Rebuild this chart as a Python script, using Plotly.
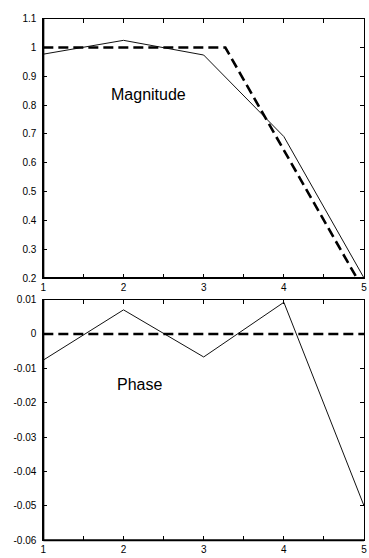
import plotly.graph_objects as go
from plotly.subplots import make_subplots

# Sample index
x = [1, 2, 3, 4, 5]

# Measured response
magnitude = [0.977, 1.025, 0.974, 0.691, 0.2]
phase = [-0.0076, 0.0070, -0.0067, 0.0092, -0.0500]

# Ideal (target) response
ideal_mag_x = [1, 3.27, 4.91]
ideal_mag = [1.0, 1.0, 0.2]
ideal_phase_x = [1, 5]
ideal_phase = [0.0, 0.0]

# Axis ticks
x_tickvals = [1, 1.5, 2, 2.5, 3, 3.5, 4, 4.5, 5]
x_ticktext = ["1", "", "2", "", "3", "", "4", "", "5"]
mag_ticks = [0.2, 0.3, 0.4, 0.5, 0.6, 0.7, 0.8, 0.9, 1.0, 1.1]
mag_ticktext = ["0.2", "0.3", "0.4", "0.5", "0.6", "0.7", "0.8", "0.9", "1", "1.1"]
phase_ticks = [-0.06, -0.05, -0.04, -0.03, -0.02, -0.01, 0.0, 0.01]
phase_ticktext = ["-0.06", "-0.05", "-0.04", "-0.03", "-0.02", "-0.01", "0", "0.01"]

W, H = 369, 558
FONT = "Liberation Sans, Arial, sans-serif"

fig = make_subplots(rows=2, cols=1)

solid = dict(color="#111111", width=1)
dashed = dict(color="#000000", width=2.6, dash="10px,5px")

fig.add_trace(go.Scatter(x=x, y=magnitude, mode="lines", line=solid), row=1, col=1)
fig.add_trace(go.Scatter(x=ideal_mag_x, y=ideal_mag, mode="lines", line=dashed), row=1, col=1)
fig.add_trace(go.Scatter(x=x, y=phase, mode="lines", line=solid), row=2, col=1)
fig.add_trace(go.Scatter(x=ideal_phase_x, y=ideal_phase, mode="lines", line=dashed), row=2, col=1)

xdom = [41 / W, 367 / W]
top_dom = [1 - 278 / H, 1 - 13 / H]
bot_dom = [1 - 546 / H, 1 - 300 / H]

axis_common = dict(
    showgrid=False, zeroline=False, showline=True, linecolor="#000000",
    linewidth=1, mirror="ticks", ticks="inside", ticklen=4, tickwidth=1,
    tickcolor="#000000", tickfont=dict(family=FONT, size=10, color="#000000"),
    ticklabeloverflow="allow",
)

fig.update_xaxes(axis_common, domain=xdom, range=[1, 5], tickmode="array",
                 tickvals=x_tickvals, ticktext=x_ticktext)
fig.update_yaxes(axis_common, row=1, col=1, domain=top_dom, range=[0.2, 1.1],
                 tickmode="array", tickvals=mag_ticks, ticktext=mag_ticktext,
                 ticklabelstandoff=4)
fig.update_yaxes(axis_common, row=2, col=1, domain=bot_dom, range=[-0.06, 0.01],
                 tickmode="array", tickvals=phase_ticks, ticktext=phase_ticktext,
                 ticklabelstandoff=4)

# Heavier left and bottom frame edges
for xa, ya in (("x", "y"), ("x2", "y2")):
    fig.add_shape(type="line", xref=f"{xa} domain", yref=f"{ya} domain",
                  x0=0, x1=0, y0=0, y1=1, line=dict(color="#000000", width=2))
    fig.add_shape(type="line", xref=f"{xa} domain", yref=f"{ya} domain",
                  x0=0, x1=1, y0=0, y1=0, line=dict(color="#000000", width=2))

fig.add_annotation(x=2.31, y=0.838, xref="x", yref="y", text="Magnitude",
                   showarrow=False, font=dict(family=FONT, size=16, color="#000000"))
fig.add_annotation(x=2.2, y=-0.0148, xref="x2", yref="y2", text="Phase",
                   showarrow=False, font=dict(family=FONT, size=16, color="#000000"))

fig.update_layout(
    width=W, height=H, showlegend=False,
    margin=dict(l=0, r=0, t=0, b=0),
    paper_bgcolor="#ffffff", plot_bgcolor="#ffffff",
)

fig.write_html("out.html")
